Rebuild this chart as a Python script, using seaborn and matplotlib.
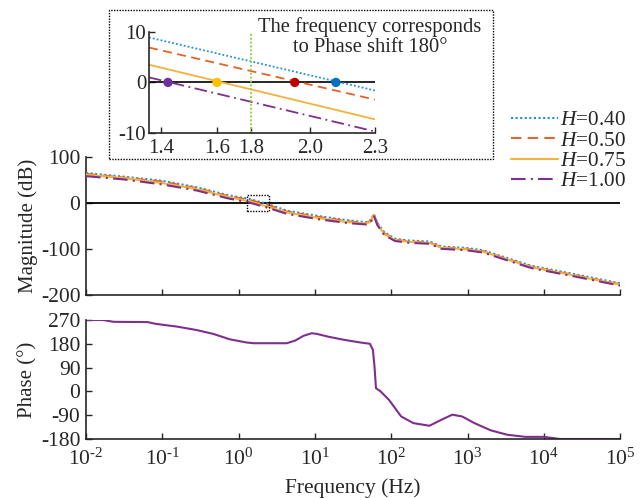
import numpy as np
import pandas as pd
import seaborn as sns
import matplotlib.pyplot as plt
from matplotlib.patches import Rectangle
from matplotlib.lines import Line2D

sns.set_style("ticks")
plt.rcParams["font.family"] = ["Liberation Serif", "DejaVu Serif"]
plt.rcParams["mathtext.fontset"] = "custom"
plt.rcParams["mathtext.rm"] = "Liberation Serif"
plt.rcParams["mathtext.it"] = "Liberation Serif:italic"
plt.rcParams["axes.unicode_minus"] = False
plt.rcParams["font.size"] = 15
plt.rcParams["xtick.labelsize"] = 15.5
plt.rcParams["ytick.labelsize"] = 15.5
plt.rcParams["xtick.direction"] = "in"
plt.rcParams["ytick.direction"] = "in"
plt.rcParams["axes.linewidth"] = 1.2

# ---- data ----
freq = [0.01, 0.031, 0.1, 0.28, 0.76, 1.35, 2.3, 4.3, 11.5, 27, 47, 54, 59,
        66, 81, 112, 174, 316, 457, 955, 1585, 3311, 6918, 23400, 100000]
mag_h040 = [65, 57, 48, 34, 16, 8.9, -1.6, -17, -29, -38, -42, -37, -24,
            -44, -64, -78, -82, -84, -95, -98, -103, -120, -137, -154, -175]
mag_h050 = [63, 55, 46, 32, 14, 6.9, -3.4, -19, -31, -40, -44, -39, -25,
            -46, -66, -80, -84, -86, -97, -100, -105, -122, -139, -156, -177]
mag_h075 = [61, 54, 43, 30, 12, 3.5, -7.3, -21, -33.5, -42, -45, -41, -26,
            -47, -68, -81, -85, -87, -98, -101, -106, -123, -140, -157, -178]
mag_h100 = [58, 51, 40, 27, 9, 1.0, -9.7, -24, -36, -44, -47, -42, -27,
            -49, -70, -83, -87, -89, -100, -103, -108, -125, -142, -159, -180]

phase_freq = [0.01, 0.0166, 0.023, 0.064, 0.083, 0.155, 0.28, 0.47, 0.76, 1.26,
              1.58, 4.27, 5.5, 7.08, 9.1, 10.7, 14.8, 24, 38.9, 52.5, 57.5,
              60.3, 63.1, 72.4, 93.3, 135, 195, 316, 457, 631, 851, 1230,
              2000, 3311, 5754, 10000, 16200, 100000]
phase = [270, 270, 263, 262, 255, 245, 232, 217, 197, 185, 182, 182, 192,
         210, 220, 217, 207, 195, 185, 180, 157, 94, 12, 0, -32, -95, -120,
         -130, -107, -88, -95, -120, -147, -164, -172, -172, -180, -180]

# zoomed view (inset) around the 0 dB crossing
inset_x = [1.35, 2.3]
inset_h040 = [8.9, -1.6]
inset_h050 = [6.9, -3.4]
inset_h075 = [3.5, -7.3]
inset_h100 = [1.0, -9.7]
cross_x = [1.43, 1.636, 1.963, 2.136]
cross_colors = ["#7030A0", "#FFC000", "#C00000", "#0070C0"]
phase180_x = 1.78
inset_tick_pos = [1.40, 1.636, 1.78, 2.027, 2.3]
inset_tick_lab = ["1.4", "1.6", "1.8", "2.0", "2.3"]
decades = [-2, -1, 0, 1, 2, 3, 4, 5]

labels = ["$H$=0.40", "$H$=0.50", "$H$=0.75", "$H$=1.00"]
colors = ["#1E8FE0", "#E5622A", "#F2B33D", "#7E2F8E"]
styles = [(0, (1, 1.2)), (0, (5, 3)), "-", (0, (7, 2.5, 1, 2.5))]
mags = [mag_h040, mag_h050, mag_h075, mag_h100]
insets = [inset_h040, inset_h050, inset_h075, inset_h100]

fig = plt.figure(figsize=(6.42, 4.98), dpi=100)
ax_mag = fig.add_axes([0.134, 0.408, 0.832, 0.277])
ax_ph = fig.add_axes([0.134, 0.1185, 0.832, 0.239])
ax_in = fig.add_axes([0.232, 0.733, 0.352, 0.203])

# ---- magnitude ----
ax_mag.set_xscale("log")
ax_mag.axhline(0, color="k", lw=1.3, zorder=1)
for m, c, ls, lab in zip(mags, colors, styles, labels):
    sns.lineplot(x=freq, y=m, ax=ax_mag, color=c, linestyle=ls, lw=1.5,
                 label=lab, legend=False, zorder=3)
ax_mag.add_patch(Rectangle((1.3, -17), 1.2, 34, fill=False, ls=(0, (1, 1)),
                           lw=1.0, color="k", zorder=4))
ax_mag.set_xlim(1e-2, 1e5)
ax_mag.set_ylim(-200, 100)
ax_mag.set_yticks([100, 0, -100, -200])
ax_mag.set_xticks([10.0 ** k for k in decades])
ax_mag.minorticks_off()
ax_mag.set_xticklabels([])
ax_mag.set_ylabel("Magnitude (dB)", fontsize=15)
ax_mag.yaxis.set_label_coords(-0.09, 0.5)

# ---- phase ----
ax_ph.set_xscale("log")
sns.lineplot(x=phase_freq, y=phase, ax=ax_ph, color="#7E2F8E", lw=1.5)
ax_ph.set_xlim(1e-2, 1e5)
ax_ph.set_ylim(-180, 270)
ax_ph.set_yticks([270, 180, 90, 0, -90, -180])
ax_ph.set_xticks([10.0 ** k for k in decades])
ax_ph.set_xticklabels([r"$10^{\text{%d}}$" % k for k in decades])
ax_ph.minorticks_off()
ax_ph.set_ylabel("Phase (°)", fontsize=15)
ax_ph.yaxis.set_label_coords(-0.09, 0.5)
ax_ph.set_xlabel("Frequency (Hz)", fontsize=15.5, labelpad=6)

for ax in (ax_mag, ax_ph):
    sns.despine(ax=ax)
    ax.tick_params(axis="y", length=4, width=1, pad=4)
    ax.tick_params(axis="x", length=4, width=1, pad=7)

# ---- inset ----
ax_in.axhline(0, color="k", lw=1.2, zorder=1)
for y, c, ls in zip(insets, colors, styles):
    sns.lineplot(x=inset_x, y=y, ax=ax_in, color=c, linestyle=ls, lw=1.3, zorder=2)
ax_in.plot([phase180_x, phase180_x], [-10, 9.7], color="#92D050", ls=(0, (1, 1)),
           lw=1.4, zorder=2)
sns.scatterplot(x=cross_x, y=[0] * len(cross_x), ax=ax_in, hue=cross_x,
                palette=cross_colors, s=45, edgecolor="none", legend=False, zorder=4)
ax_in.set_xlim(1.35, 2.3)
ax_in.set_ylim(-10, 10)
ax_in.set_yticks([10, 0, -10])
ax_in.set_xticks(inset_tick_pos)
ax_in.set_xticklabels(inset_tick_lab)
sns.despine(ax=ax_in)
ax_in.tick_params(length=4, width=1, labelsize=15)
ax_in.tick_params(axis="x", pad=4)
ax_in.tick_params(axis="y", pad=2)

fig.text(0.576, 0.926, "The frequency corresponds\nto Phase shift 180°",
         ha="center", va="center", fontsize=14.8, linespacing=1.1)
fig.patches.append(Rectangle((0.170, 0.681), 0.598, 0.299, fill=False,
                             ls=(0, (1, 1)), lw=1.0, color="k",
                             transform=fig.transFigure, figure=fig))

handles = [Line2D([], [], color=c, ls=ls, lw=1.5) for c, ls in zip(colors, styles)]
fig.legend(handles, labels, loc="upper left", bbox_to_anchor=(0.796, 0.778),
           frameon=False, fontsize=15.3, handlelength=2.2, handletextpad=0.1,
           labelspacing=0.02, borderpad=0, borderaxespad=0)

fig.savefig("out.png", dpi=100)
